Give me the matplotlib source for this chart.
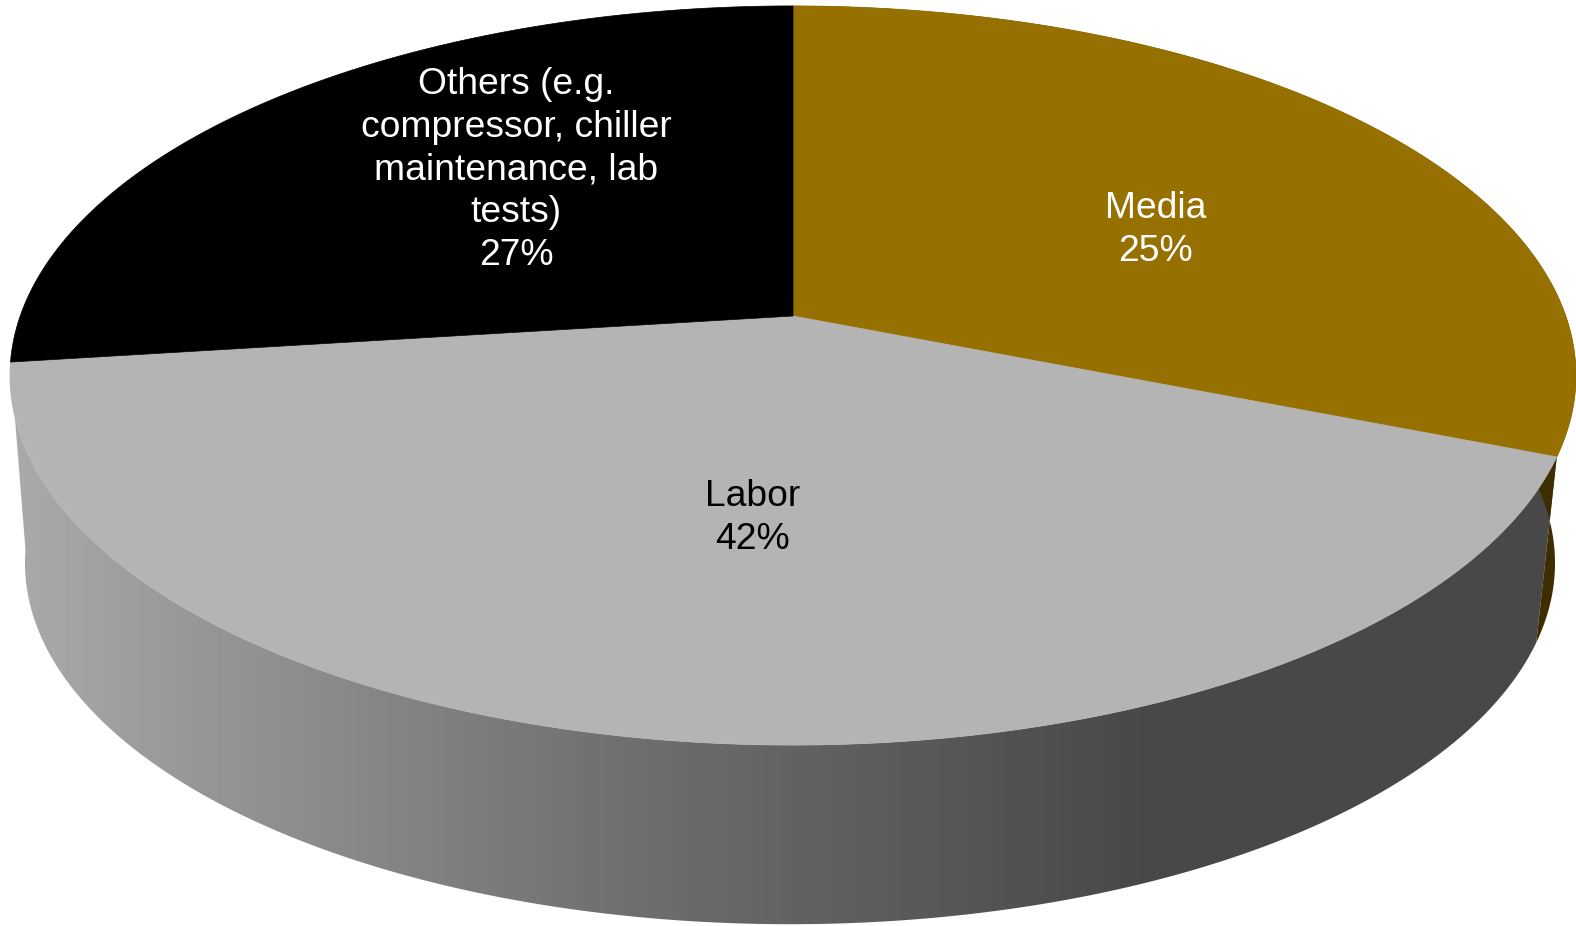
import matplotlib
matplotlib.use("Agg")
import matplotlib.pyplot as plt
from matplotlib.patches import Polygon
import numpy as np

plt.rcParams['font.family'] = ['Liberation Sans', 'DejaVu Sans']

# Data (clockwise from 12 o'clock)
names = ["Media", "Labor", "Others (e.g.\ncompressor, chiller\nmaintenance, lab\ntests)"]
shares = [25, 42, 27]  # %, as printed
# printed shares stop at 94 %, the rest goes in with the first slice
unlabelled = 100 - sum(shares)

top_colors = ["#967000", "#B4B4B4", "#000000"]
wall_colors = ["#3D2D00", None, "#000000"]
text_colors = ["white", "black", "white"]
label_xy = [(1156, 230), (753, 518), (516, 170)]

# Projection of the disc, in pixels
CX_TOP, CY_TOP = 793, 316
CX_BOT, CY_BOT = 790, 505
PERSP = 0.161
YK = -360
RAD = 772.8
BOT_SCALE = 0.977


def project(theta, cx, cy, scale=1.0):
    u, v = np.sin(theta), np.cos(theta)
    w = 1 + PERSP * v
    return cx + scale * RAD * u / w, cy + scale * YK * v / w


def arc(a, b, cx, cy, scale=1.0):
    t = np.linspace(a, b, 300)
    return np.column_stack(project(t, cx, cy, scale))


def wall_outline(a, b):
    return np.vstack([arc(a, b, CX_TOP, CY_TOP), arc(b, a, CX_BOT, CY_BOT, BOT_SCALE)])


sweeps = np.array(shares, dtype=float)
sweeps[0] += unlabelled
edges = np.radians(np.concatenate([[0], np.cumsum(sweeps)]) * 3.6)

fig = plt.figure(figsize=(15.76, 9.26), dpi=100)
ax = fig.add_axes([0, 0, 1, 1])
ax.set_axis_off()

# Walls first, the top face goes over them
ax.add_patch(Polygon(wall_outline(edges[0], edges[1]), fc=wall_colors[0], ec='none'))

wall = Polygon(wall_outline(edges[1], edges[2]), fc='none', ec='none')
ax.add_patch(wall)
xs = np.arange(0, 1576)
gray = np.interp(xs, [0, 30, 200, 600, 800, 1000, 1150, 1576],
                 [170, 168, 150, 113, 98, 83, 72, 72]) / 255
img = ax.imshow(gray[None, :], cmap='gray', vmin=0, vmax=1, extent=[0, 1576, 926, 0], aspect='auto')
img.set_clip_path(wall)

for i in range(3):
    pts = np.vstack([[[CX_TOP, CY_TOP]], arc(edges[i], edges[i + 1], CX_TOP, CY_TOP)])
    ax.add_patch(Polygon(pts, fc=top_colors[i], ec=top_colors[i], lw=0.5))

for name, val, xy, col in zip(names, shares, label_xy, text_colors):
    ax.text(xy[0], xy[1], f"{name}\n{val}%", color=col, fontsize=26.8, ha='center', va='center',
            linespacing=1.285)

ax.set_xlim(0, 1576)
ax.set_ylim(926, 0)

fig.savefig("out.png", dpi=100)
